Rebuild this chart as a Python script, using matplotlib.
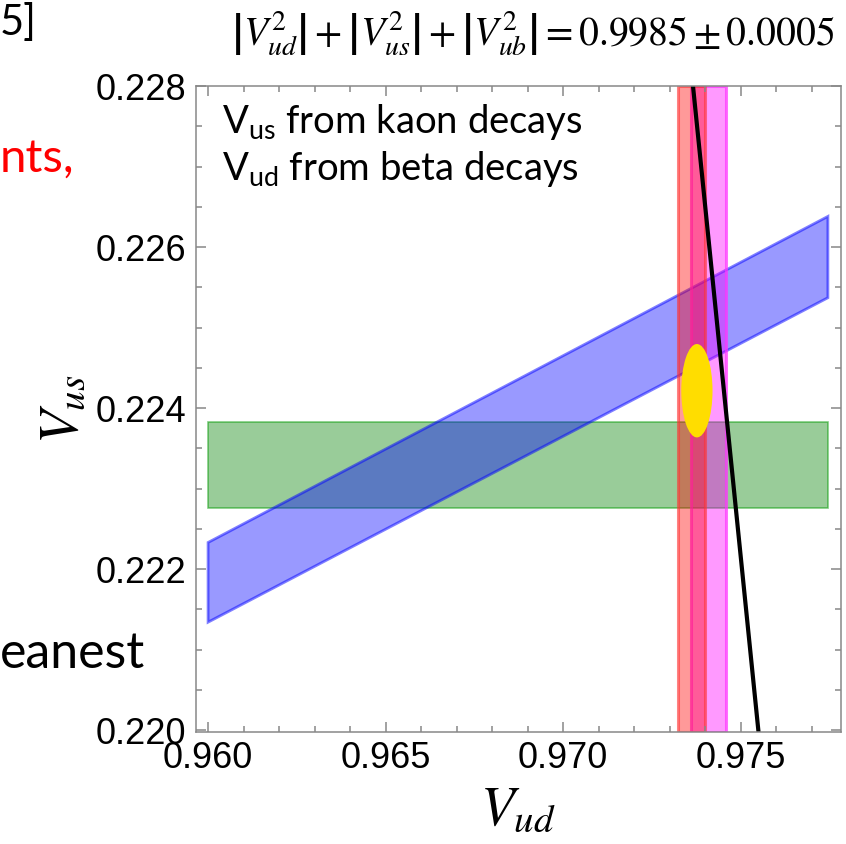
import matplotlib
matplotlib.use("Agg")
import matplotlib.pyplot as plt
from matplotlib.patches import Polygon, Ellipse, Rectangle
from matplotlib.ticker import MultipleLocator, FormatStrFormatter

plt.rc('font', family='Liberation Sans')
plt.rc('mathtext', fontset='stix')

# Vus from K decays (ratio band, corners along the left and right edges)
ratio_x = [0.960, 0.97746]
ratio_lo = [0.22134, 0.22537]
ratio_hi = [0.22233, 0.22638]

# Vus from semileptonic kaon decays (horizontal band)
kl3_x = [0.960, 0.97746]
kl3_y = [0.22276, 0.22383]

# Vud from beta decays (vertical bands)
vud_red = [0.97325, 0.97401]
vud_magenta = [0.97360, 0.97459]

# combined fit
fit_center = (0.97377, 0.224215)
fit_halfwidth = (0.00044, 0.00058)

# unitarity line endpoints
unit_vud = [0.97366, 0.97550]
unit_vus = [0.228, 0.220]

fig = plt.figure(figsize=(8.46, 8.44), dpi=100)
ax = fig.add_axes([0.2317, 0.1331, 0.7620, 0.7650])

ax.add_patch(Rectangle((kl3_x[0], kl3_y[0]), kl3_x[1] - kl3_x[0], kl3_y[1] - kl3_y[0],
                       facecolor=(0, 0.5, 0, 0.4), edgecolor=(0, 0.6, 0, 0.5), lw=1.2))

band = [(ratio_x[0], ratio_lo[0]), (ratio_x[1], ratio_lo[1]),
        (ratio_x[1], ratio_hi[1]), (ratio_x[0], ratio_hi[0])]
ax.add_patch(Polygon(band, closed=True, facecolor=(0, 0, 1, 0.4),
                     edgecolor=(0, 0, 1, 0.5), lw=2))

ax.axvspan(vud_magenta[0], vud_magenta[1], facecolor=(1, 0, 1, 0.4),
           edgecolor=(1, 0.2, 1, 0.7), lw=2.2)
ax.axvspan(vud_red[0], vud_red[1], facecolor=(1, 0, 0, 0.4),
           edgecolor=(1, 0.2, 0.2, 0.6), lw=2.2)

ax.add_patch(Ellipse(fit_center, 2 * fit_halfwidth[0], 2 * fit_halfwidth[1],
                     facecolor='#FFDD00', edgecolor='none'))

ax.plot(unit_vud, unit_vus, color='black', lw=3)

ax.set_xlim(0.95966, 0.97782)
ax.set_ylim(0.21998, 0.228)

ax.xaxis.set_major_locator(MultipleLocator(0.005))
ax.xaxis.set_minor_locator(MultipleLocator(0.001))
ax.yaxis.set_major_locator(MultipleLocator(0.002))
ax.yaxis.set_minor_locator(MultipleLocator(0.0005))
ax.xaxis.set_major_formatter(FormatStrFormatter('%.3f'))
ax.yaxis.set_major_formatter(FormatStrFormatter('%.3f'))

ax.tick_params(which='both', direction='in', top=True, right=True,
               color='#888888', width=1.1, labelsize=26)
ax.tick_params(which='major', length=7, pad=7)
ax.tick_params(which='minor', length=4.5)
for s in ax.spines.values():
    s.set_color('#888888')
    s.set_linewidth(1.1)

ax.set_xlabel(r'$V_{ud}$', fontsize=40, labelpad=6)
ax.set_ylabel(r'$V_{us}$', fontsize=40, labelpad=4)

ax.text(0.2624, 0.8424, r'$\mathregular{V_{us}}$ from kaon decays', transform=fig.transFigure,
        family='Lato', fontsize=27.5, va='baseline')
ax.text(0.2624, 0.7867, r'$\mathregular{V_{ud}}$ from beta decays', transform=fig.transFigure,
        family='Lato', fontsize=27.5, va='baseline')

fig.text(0.630, 0.960,
         r'$\left|V_{ud}^{2}\right|+\left|V_{us}^{2}\right|+\left|V_{ub}^{2}\right|=0.9985\pm0.0005$',
         fontsize=28.5, ha='center', va='center')

fig.text(0.0, 0.996, '5]', family='Lato', fontsize=30, va='top')
fig.text(0.0, 0.812, 'nts,', family='Lato', fontsize=34, va='center', color='red')
fig.text(0.0, 0.225, 'eanest', family='Lato', fontsize=36, va='center')

fig.savefig('out.png', dpi=100)
